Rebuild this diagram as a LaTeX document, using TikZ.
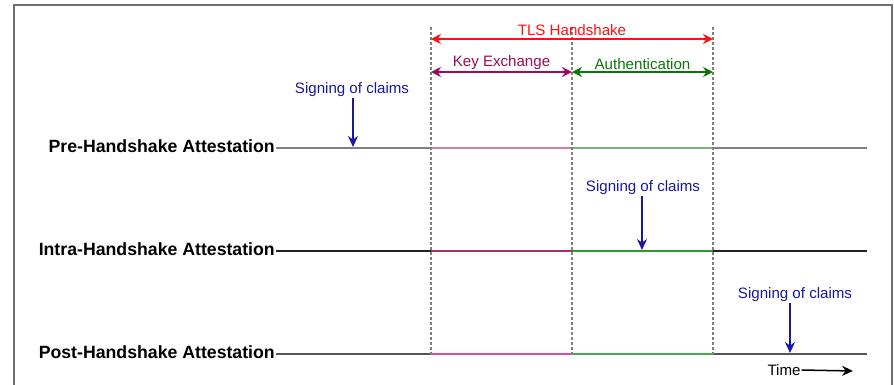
\documentclass[tikz,border=0pt]{standalone}
\usepackage{fontspec}
\setmainfont{Liberation Sans}
\usetikzlibrary{arrows.meta,positioning}
\definecolor{tlsred}{HTML}{FF1010}
\definecolor{kexpurple}{HTML}{9A0C5A}
\definecolor{authgreen}{HTML}{0A760A}
\definecolor{signblue}{HTML}{1818A0}
\definecolor{framegray}{HTML}{707070}
\definecolor{guidegray}{HTML}{808080}
% track colours, one set per lane
\definecolor{basepre}{HTML}{808080}
\definecolor{kxpre}{HTML}{D07CA6}
\definecolor{aupre}{HTML}{78B478}
\definecolor{baseintra}{HTML}{222222}
\definecolor{kxintra}{HTML}{AC2C6A}
\definecolor{auintra}{HTML}{2E9A2E}
\definecolor{basepost}{HTML}{555555}
\definecolor{kxpost}{HTML}{D4509A}
\definecolor{aupost}{HTML}{4CA84C}
\tikzset{
  phase/.style={font=\fontsize{15.1}{18}\selectfont, inner sep=1pt},
  lane/.style={font=\bfseries\fontsize{17.7}{21}\selectfont, inner sep=1pt},
  span/.style={{Stealth[length=10pt,width=10pt]}-{Stealth[length=10pt,width=10pt]}, line width=1.8pt},
  sign/.style={-{Stealth[length=11pt,width=10pt]}, signblue, line width=1.5pt},
  track/.style={line width=2.3pt},
  guide/.style={guidegray, line width=2pt, dash pattern=on 3pt off 2pt},
}
\begin{document}
\begin{tikzpicture}[x=1pt,y=-1pt]
\useasboundingbox (0,0) rectangle (894,384);
\draw[framegray, line width=2.2pt] (14,386) -- (14,5) -- (892,5) -- (892,386);

% lanes
\foreach \r/\y/\name in {pre/148/Pre, intra/251/Intra, post/354/Post}{
  \coordinate (\r-0) at (276,\y);
  \coordinate (\r-1) at (431,\y);
  \coordinate (\r-2) at (572,\y);
  \coordinate (\r-3) at (713,\y);
  \coordinate (\r-4) at (867,\y);
  \node[lane, left=0pt of \r-0, yshift=1.5pt] (\r) {\name-Handshake Attestation};
  \draw[track, base\r] (\r-0) -- (\r-1) (\r-3) -- (\r-4);
  \draw[track, kx\r] (\r-1) -- (\r-2);
  \draw[track, au\r] (\r-2) -- (\r-3);
}

% phase boundaries
\foreach \g/\x in {a/431, b/572, c/713}{
  \coordinate (\g-top) at (\x,27);
  \coordinate (\g-bot) at (\x,357);
  \draw[guide] (\g-top) -- (\g-bot);
  \coordinate (\g-tls) at (\x,39);
  \coordinate (\g-sub) at (\x,72);
}

\path[span]
  (a-tls) edge[tlsred] node[phase, above=1.5pt, tlsred] {TLS Handshake} (c-tls)
  (a-sub) edge[kexpurple] node[phase, above, kexpurple] {Key Exchange} (b-sub)
  (b-sub) edge[authgreen] node[phase, above, authgreen] {Authentication} (c-sub);

% signing points
\node[phase, signblue] (sig1) at (352,90) {Signing of claims};
\node[phase, signblue] (sig2) at (643,188) {Signing of claims};
\node[phase, signblue] (sig3) at (795,295) {Signing of claims};
\coordinate (hit1) at (353,147);
\coordinate (hit2) at (642,250);
\coordinate (hit3) at (790,353);
\draw[sign] (sig1.south -| hit1) -- (hit1);
\draw[sign] (sig2.south -| hit2) -- (hit2);
\draw[sign] (sig3.south -| hit3) -- (hit3);

\node[phase] (time) at (784,370) {Time};
\coordinate (time-end) at (853,371);
\draw[-{Stealth[length=11pt,width=10pt]}, line width=1.5pt] (time.east) -- (time-end);
\end{tikzpicture}
\end{document}
